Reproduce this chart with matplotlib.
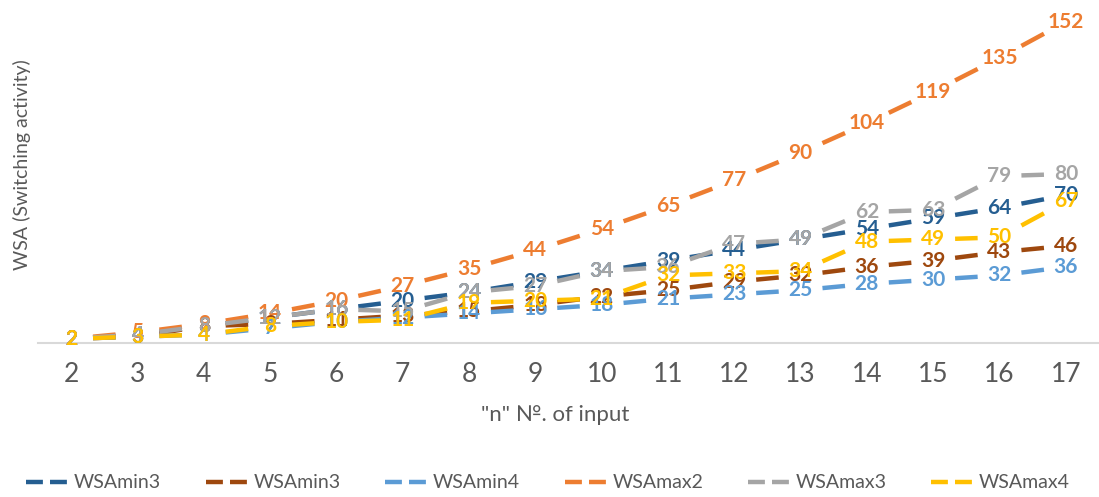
import numpy as np
import matplotlib.pyplot as plt
from matplotlib.lines import Line2D

n_inputs = [2, 3, 4, 5, 6, 7, 8, 9, 10, 11, 12, 13, 14, 15, 16, 17]

wsa_min3_a = [2, 4, 8, 12, 16, 20, 24, 29, 34, 39, 44, 49, 54, 59, 64, 70]
wsa_min3_b = [2, 3, 8, 9, 11, 13, 15, 18, 22, 25, 29, 32, 36, 39, 43, 46]
wsa_min4 = [2, 3, 4, 7, 10, 12, 14, 16, 18, 21, 23, 25, 28, 30, 32, 36]
wsa_max2 = [2, 5, 9, 14, 20, 27, 35, 44, 54, 65, 77, 90, 104, 119, 135, 152]
wsa_max3 = [2, 4, 8, 12, 16, 15, 24, 27, 34, 36, 47, 49, 62, 63, 79, 80]
wsa_max4 = [2, 3, 4, 8, 10, 11, 19, 20, 21, 32, 33, 34, 48, 49, 50, 67]

series_names = ["WSAmin3", "WSAmin3", "WSAmin4", "WSAmax2", "WSAmax3", "WSAmax4"]
series_values = [wsa_min3_a, wsa_min3_b, wsa_min4, wsa_max2, wsa_max3, wsa_max4]
colors = ["#255E91", "#9E480E", "#5B9BD5", "#ED7D31", "#A5A5A5", "#FFC000"]

label_font = "Lato"
axis_font = "Lato"

fig = plt.figure(figsize=(10.99, 4.97), dpi=100)
ax = fig.add_axes([38 / 1099, 154 / 497, 1061 / 1099, 338 / 497])

x = np.array(n_inputs, dtype=float)
for vals, color in zip(series_values, colors):
    y = np.array(vals, dtype=float)
    # long-dash look: one dash in the middle of each step
    dx, dy = np.diff(x), np.diff(y)
    xs = np.column_stack([x[:-1] + 0.33 * dx, x[:-1] + 0.67 * dx, np.full(len(dx), np.nan)]).ravel()
    ys = np.column_stack([y[:-1] + 0.33 * dy, y[:-1] + 0.67 * dy, np.full(len(dy), np.nan)]).ravel()
    ax.plot(xs, ys, color=color, lw=3.2, solid_capstyle="butt", zorder=2)

for vals, color in zip(series_values, colors):
    for xi, yi in zip(n_inputs, vals):
        ax.text(xi, yi, str(yi), color=color, fontsize=15, fontweight="bold",
                family=label_font, ha="center", va="center", zorder=3)

ax.set_xlim(1.5, 17.5)
ax.set_ylim(0, 160)
ax.set_xticks(n_inputs)
ax.set_xticklabels([str(v) for v in n_inputs], family=axis_font, fontsize=19, color="#595959")
ax.tick_params(axis="x", length=0, pad=14)
ax.set_yticks([])
for side in ["top", "right", "left"]:
    ax.spines[side].set_visible(False)
ax.spines["bottom"].set_color("#D9D9D9")
ax.spines["bottom"].set_linewidth(1.5)

fig.text(555 / 1099, 1 - 415 / 497, '"n" №. of input', family=axis_font, fontsize=16,
         color="#595959", ha="center", va="center")
fig.text(22 / 1099, 1 - 165 / 497, "WSA (Switching activity)", family=axis_font, fontsize=14,
         color="#595959", ha="center", va="center", rotation=90)

handles = [Line2D([], [], color=c, lw=3.2, linestyle=(0, (3.8, 1.6))) for c in colors]
fig.legend(handles, series_names, loc="center", bbox_to_anchor=(548 / 1099, 1 - 483 / 497), ncol=6,
           frameon=False, handlelength=2.2, handletextpad=0.25, columnspacing=2.3,
           prop={"family": axis_font, "size": 14}, labelcolor="#595959")

fig.savefig("out.png", dpi=100)
